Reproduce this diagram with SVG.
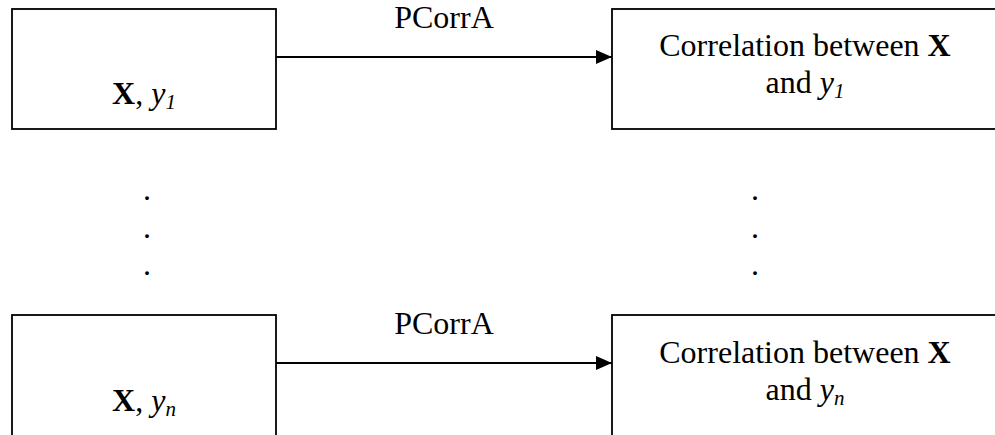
<svg xmlns="http://www.w3.org/2000/svg" width="995" height="435" viewBox="0 0 995 435">
<style>
.box{fill:#fff;stroke:#000;stroke-width:1.8}
.t{font-family:"Liberation Serif","Times New Roman",serif;font-size:32px;fill:#000}
.b{font-weight:bold}
.i{font-style:italic}
.s{font-style:italic;font-size:21px}
.edge{stroke:#000;stroke-width:1.8;fill:none}
</style>
<defs>
<marker id="ah" markerWidth="16" markerHeight="14" refX="16" refY="7" orient="auto" markerUnits="userSpaceOnUse">
<path d="M0,0 L16,7 L0,14 Z" fill="#000"/>
</marker>
</defs>
<rect width="995" height="435" fill="#fff"/>
<g id="connectors">
<line class="edge" x1="276" y1="57" x2="612" y2="57" marker-end="url(#ah)"/>
<line class="edge" x1="276" y1="363" x2="612" y2="363" marker-end="url(#ah)"/>
<text class="t" x="444" y="28" text-anchor="middle">PCorrA</text>
<text class="t" x="444" y="334" text-anchor="middle">PCorrA</text>
</g>
<g id="in1">
<rect class="box" x="12" y="9" width="264" height="120"/>
<text class="t" x="144" y="104" text-anchor="middle"><tspan class="b">X</tspan>, <tspan class="i">y</tspan><tspan class="s" dy="5">1</tspan></text>
</g>
<g id="out1">
<rect class="box" x="612" y="9" width="400" height="120"/>
<text class="t" x="805" y="56" text-anchor="middle">Correlation between <tspan class="b">X</tspan></text>
<text class="t" x="805" y="93" text-anchor="middle">and <tspan class="i">y</tspan><tspan class="s" dy="5">1</tspan></text>
</g>
<g id="inN">
<rect class="box" x="12" y="315" width="264" height="140"/>
<text class="t" x="144" y="411" text-anchor="middle"><tspan class="b">X</tspan>, <tspan class="i">y</tspan><tspan class="s" dy="5">n</tspan></text>
</g>
<g id="outN">
<rect class="box" x="612" y="315" width="400" height="140"/>
<text class="t" x="805" y="363" text-anchor="middle">Correlation between <tspan class="b">X</tspan></text>
<text class="t" x="805" y="400" text-anchor="middle">and <tspan class="i">y</tspan><tspan class="s" dy="5">n</tspan></text>
</g>
<g id="dots">
<text class="t" x="147" y="200" text-anchor="middle">.</text>
<text class="t" x="147" y="238" text-anchor="middle">.</text>
<text class="t" x="147" y="275" text-anchor="middle">.</text>
<text class="t" x="755" y="200" text-anchor="middle">.</text>
<text class="t" x="755" y="238" text-anchor="middle">.</text>
<text class="t" x="755" y="275" text-anchor="middle">.</text>
</g>
</svg>
